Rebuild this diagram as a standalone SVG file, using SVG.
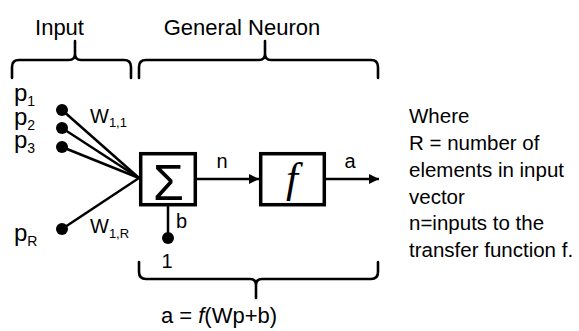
<svg xmlns="http://www.w3.org/2000/svg" width="579" height="331" viewBox="0 0 579 331">
<style>
text{font-family:"Liberation Sans",Arial,sans-serif;fill:#000}
.lbl{font-size:22px}
.p{font-size:24px}
.ps{font-size:14px}
.w{font-size:20px}
.ws{font-size:13px}
.sm{font-size:20px}
.note{font-size:20.5px}
.brace{fill:none;stroke:#000;stroke-width:2.6;stroke-linejoin:round;stroke-linecap:round}
.wire{fill:none;stroke:#000;stroke-width:2.5}
.box{fill:#fff;stroke:#000;stroke-width:3.5}
.dot{fill:#000}
</style>
<defs>
<marker id="ah" viewBox="0 0 10 10" refX="10" refY="5" markerWidth="11" markerHeight="10" markerUnits="userSpaceOnUse" orient="auto">
<path d="M0,0 L10,5 L0,10 Z" fill="#000"/>
</marker>
</defs>
<g id="braces">
<path class="brace" d="M12,78 L12,67 Q12,60 19,60 L69,60 Q75,60 75,54 L75,41 M75,54 Q75,60 81,60 L124,60 Q131,60 131,67 L131,78"/>
<path class="brace" d="M139,78 L139,67 Q139,60 146,60 L259,60 Q265,60 265,54 L265,41 M265,54 Q265,60 271,60 L371,60 Q378,60 378,67 L378,78"/>
<path class="brace" d="M139,262 L139,272 Q139,279 146,279 L250,279 Q256,279 256,285 L256,298 M256,285 Q256,279 262,279 L371,279 Q378,279 378,272 L378,262"/>
<text class="lbl" x="59.5" y="35" text-anchor="middle">Input</text>
<text class="lbl" x="242" y="35" text-anchor="middle">General Neuron</text>
</g>
<g id="connectors">
<line class="wire" x1="62" y1="110" x2="139" y2="178"/>
<line class="wire" x1="62" y1="128" x2="139" y2="178"/>
<line class="wire" x1="62" y1="147" x2="139" y2="178"/>
<line class="wire" x1="62" y1="229" x2="139" y2="178"/>
<line class="wire" x1="168" y1="206" x2="168" y2="238"/>
<line class="wire" x1="197" y1="179" x2="259" y2="179" marker-end="url(#ah)"/>
<line class="wire" x1="326" y1="179" x2="379" y2="179" marker-end="url(#ah)"/>
<text class="w" x="90" y="123">W<tspan class="ws" dy="4">1,1</tspan></text>
<text class="w" x="90" y="233">W<tspan class="ws" dy="5">1,R</tspan></text>
<text class="sm" x="222" y="168" text-anchor="middle">n</text>
<text class="sm" x="350" y="168" text-anchor="middle">a</text>
<text class="sm" x="176" y="228">b</text>
</g>
<g id="input-p1">
<circle class="dot" cx="62" cy="110" r="6"/>
<text class="p" x="14" y="101">p<tspan class="ps" dy="5">1</tspan></text>
</g>
<g id="input-p2">
<circle class="dot" cx="62" cy="128" r="6"/>
<text class="p" x="14" y="125">p<tspan class="ps" dy="5">2</tspan></text>
</g>
<g id="input-p3">
<circle class="dot" cx="62" cy="147" r="6"/>
<text class="p" x="14" y="148">p<tspan class="ps" dy="5">3</tspan></text>
</g>
<g id="input-pR">
<circle class="dot" cx="62" cy="229" r="6"/>
<text class="p" x="14" y="241">p<tspan class="ps" dy="5">R</tspan></text>
</g>
<g id="bias">
<circle class="dot" cx="168" cy="238" r="6"/>
<text class="sm" x="167" y="268" text-anchor="middle">1</text>
</g>
<g id="sum">
<rect class="box" x="140.7" y="153.7" width="54.6" height="51"/>
<text x="168.5" y="200" text-anchor="middle" style="font-size:50px">Σ</text>
</g>
<g id="transfer">
<rect class="box" x="260.7" y="153.7" width="63.6" height="51"/>
<text x="292" y="192" text-anchor="middle" style="font-family:'Liberation Serif',serif;font-style:italic;font-size:43px">f</text>
</g>
<g id="formula">
<text class="lbl" x="219" y="323" text-anchor="middle">a = <tspan font-style="italic">f</tspan>(Wp+b)</text>
</g>
<g id="note">
<text class="note" x="409" y="123">Where</text>
<text class="note" x="409" y="150">R = number of</text>
<text class="note" x="409" y="177">elements in input</text>
<text class="note" x="409" y="204">vector</text>
<text class="note" x="409" y="230">n=inputs to the</text>
<text class="note" x="409" y="257">transfer function f.</text>
</g>
</svg>
